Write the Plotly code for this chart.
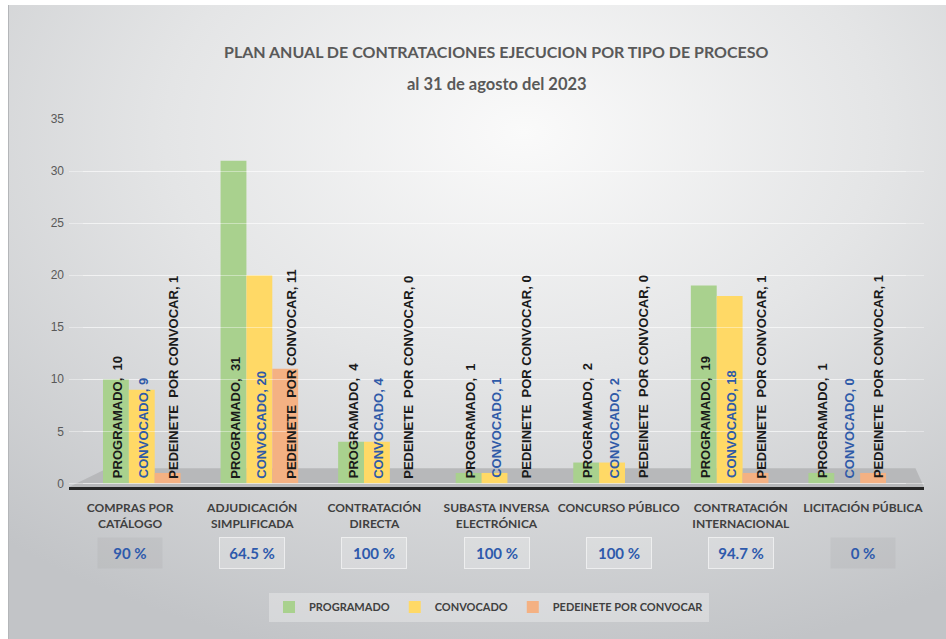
import base64
import plotly.graph_objects as go

# data
categories = ["COMPRAS POR<br>CATÁLOGO", "ADJUDICACIÓN<br>SIMPLIFICADA", "CONTRATACIÓN<br>DIRECTA",
              "SUBASTA INVERSA<br>ELECTRÓNICA", "CONCURSO PÚBLICO", "CONTRATACIÓN<br>INTERNACIONAL",
              "LICITACIÓN PÚBLICA"]
programado = [10, 31, 4, 1, 2, 19, 1]
convocado = [9, 20, 4, 1, 2, 18, 0]
pendiente = [1, 11, 0, 0, 0, 1, 1]
avance = ["90 %", "64.5 %", "100 %", "100 %", "100 %", "94.7 %", "0 %"]
y_ticks = [0, 5, 10, 15, 20, 25, 30, 35]

W, H = 946, 639
ML, MR, MT, MB = 69, 22, 119, 152
PW, PH = W - ML - MR, H - MT - MB

CAL = "Lato, Roboto, Liberation Sans, sans-serif"   # stands in for Calibri
SANS = "Liberation Sans, Arial, sans-serif"

series = [
    ("PROGRAMADO", programado, "#A9D18E", "#1a1a1a", "PROGRAMADO,  {}", -24),
    ("CONVOCADO", convocado, "#FFD966", "#2F5AA8", "CONVOCADO, {}", 2),
    ("PEDEINETE POR CONVOCAR", pendiente, "#F4B183", "#1a1a1a", "PEDEINETE  POR CONVOCAR, {}", 32),
]

fig = go.Figure()
cat_keys = [c.replace("<br>", " ") for c in categories]
for name, vals, color, _, _, _ in series:
    fig.add_trace(go.Bar(x=cat_keys, y=vals, name=name, marker=dict(color=color, line=dict(width=0)),
                         xaxis="x", yaxis="y"))

annotations = []
# vertical value labels sitting on the bar bases
for name, vals, _, tcolor, fmt, dx in series:
    for c, v in zip(cat_keys, vals):
        annotations.append(dict(
            x=c, y=0, xref="x", yref="y", text=fmt.format(v).replace("  ", "&nbsp; "),
            textangle=-90, showarrow=False, xanchor="center", yanchor="bottom",
            xshift=dx, yshift=3, font=dict(family=SANS, size=13, color=tcolor, weight="bold")))

# percentage boxes under the category labels
box_dark = [True, False, False, False, False, False, True]
for i, (t, dark) in enumerate(zip(avance, box_dark)):
    annotations.append(dict(
        x=i, y=(487 - 553) / PH, xref="x2", yref="paper", text=t, showarrow=False,
        xanchor="center", yanchor="middle", width=62, height=28,
        bgcolor="rgba(0,0,0,0.035)" if dark else "rgba(255,255,255,0.22)",
        bordercolor="rgba(0,0,0,0)" if dark else "rgba(255,255,255,0.6)", borderwidth=1,
        font=dict(family=CAL, size=15, color="#2E5AAC", weight="bold")))

# two-line title
annotations.append(dict(x=0.5, y=1 + (MT - 52) / PH, xref="paper", yref="paper", showarrow=False,
                        yanchor="middle",
                        text="PLAN ANUAL DE CONTRATACIONES EJECUCION POR TIPO DE PROCESO",
                        font=dict(family=CAL, size=16, color="#595959", weight="bold")))
annotations.append(dict(x=0.5, y=1 + (MT - 84) / PH, xref="paper", yref="paper", showarrow=False,
                        yanchor="middle", text="al 31 de agosto del 2023",
                        font=dict(family=CAL, size=16.5, color="#595959", weight="bold")))

svg = ('<svg xmlns="http://www.w3.org/2000/svg" width="938" height="634">'
       '<defs><radialGradient id="g" cx="0.55" cy="0.2" r="0.85">'
       '<stop offset="0" stop-color="#fafafa"/><stop offset="0.45" stop-color="#e4e5e6"/>'
       '<stop offset="1" stop-color="#c2c4c7"/></radialGradient></defs>'
       '<rect width="938" height="634" fill="url(#g)"/>'
       '<line x1="0.5" y1="0" x2="0.5" y2="634" stroke="#b4b6b9"/></svg>')
bg = "data:image/svg+xml;base64," + base64.b64encode(svg.encode()).decode()

fig.update_layout(
    width=W, height=H,
    margin=dict(l=ML, r=MR, t=MT, b=MB),
    paper_bgcolor="white", plot_bgcolor="rgba(0,0,0,0)",
    barmode="group", bargap=0.34, bargroupgap=0,
    showlegend=True,
    legend=dict(orientation="h", x=(489 - ML) / PW, y=(487 - 607) / PH, xanchor="center",
                yanchor="middle", bgcolor="rgba(255,255,255,0.3)", itemwidth=30,
                font=dict(family=CAL, size=11, color="#404040", weight="bold")),
    xaxis=dict(domain=[(83 - ML) / PW, (906 - ML) / PW], anchor="y", type="category",
               showticklabels=False, showgrid=False, showline=False, zeroline=False, ticks="",
               automargin=False),
    xaxis2=dict(domain=[0, 1], anchor="y", range=[-0.5, 6.5], tickmode="array",
                tickvals=list(range(len(categories))), ticktext=categories,
                showgrid=False, zeroline=False, showline=True, linecolor="#262626", linewidth=3,
                ticks="", tickangle=0, ticklabelstandoff=8, automargin=False,
                tickfont=dict(family=CAL, size=12, color="#404040", weight="bold")),
    yaxis=dict(anchor="free", position=0, range=[-0.35, 35], tickvals=y_ticks,
               showgrid=True, gridcolor="rgba(255,255,255,0.4)", gridwidth=1,
               zeroline=False, showline=False, ticks="", automargin=False, ticklabelstandoff=5,
               tickfont=dict(family=SANS, size=12, color="#595959")),
    images=[dict(source=bg, xref="paper", yref="paper", x=(8 - ML) / PW, y=1 + (MT - 5) / PH,
                 sizex=938 / PW, sizey=634 / PH, xanchor="left", yanchor="top",
                 sizing="stretch", layer="below")],
    shapes=[dict(type="path", xref="paper", yref="y", layer="between",
                 path="M 0,-0.35 L 1,-0.35 L 0.99,1.45 L 0.045,1.45 Z",
                 fillcolor="#b7b8ba", line=dict(width=0))],
    annotations=annotations,
)

# the page's default 8px body margin would shift the whole figure
fig.write_html("out.html", config={"displayModeBar": False},
               post_script="document.body.style.margin='0';")
